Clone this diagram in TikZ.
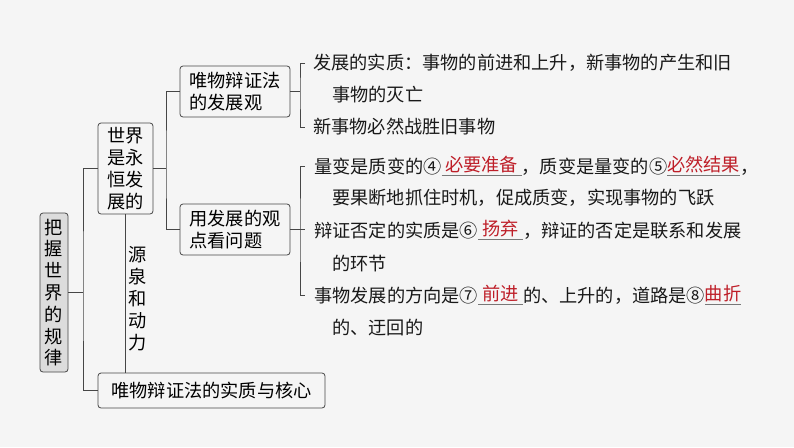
\documentclass[tikz,border=0pt]{standalone}
\usepackage{fontspec}
\setmainfont{Noto Sans CJK SC}
\definecolor{bg}{RGB}{245,245,245}
\definecolor{rootfill}{RGB}{220,220,220}
\definecolor{linec}{RGB}{70,70,70}
\definecolor{ansred}{RGB}{190,30,40}
\definecolor{ulc}{RGB}{120,120,120}
\newcommand{\ansblank}[2]{\rlap{\color{ulc}\rule[-2.5pt]{#1}{0.8pt}}\makebox[#1][c]{\raisebox{1.5pt}{\color{ansred}#2}}}
\tikzset{
  box/.style={draw=linec, line width=0.8pt, rounded corners=3pt, inner sep=0pt, align=left,
              font=\fontsize{18.2}{21.5}\selectfont},
  conn/.style={draw=linec, line width=0.8pt},
  txt/.style={anchor=west, inner sep=0pt, font=\fontsize{18.2}{22}\selectfont, text=black!90}
}
\begin{document}
\begin{tikzpicture}[x=1pt,y=-1pt]
\fill[bg] (0,0) rectangle (794,447);
\useasboundingbox (0,0) rectangle (794,447);

% boxes
\node[box, fill=rootfill, minimum width=28pt, minimum height=159pt, align=center,
      font=\fontsize{18.2}{21.8}\selectfont] (root) at (54,292.5) {把\\握\\世\\界\\的\\规\\律};
\node[box, minimum width=55pt, minimum height=91pt, font=\fontsize{18.2}{22}\selectfont] (w) at (125.5,168.5) {世界\\是永\\恒发\\展的};
\node[box, minimum width=110pt, minimum height=51pt] (b1) at (235,91.5) {唯物辩证法\\的发展观};
\node[box, minimum width=110pt, minimum height=51pt] (b2) at (235,229.5) {用发展的观\\点看问题};
\node[box, minimum width=227pt, minimum height=35pt] (bot) at (211.5,390.5) {唯物辩证法的实质与核心};
\node[inner sep=0pt, align=center, font=\fontsize{18.2}{22}\selectfont] (src) at (138,299) {源\\泉\\和\\动\\力};

% junctions
\coordinate (j1) at (83,292.5);
\coordinate (j2) at (166,168.5);
\coordinate (j3) at (300,91.5);
\coordinate (j4) at (300,229.5);

% right texts
\node[txt] (l1) at (313,63) {发展的实质：事物的前进和上升，新事物的产生和旧};
\node[txt] (l2) at (332,95) {事物的灭亡};
\node[txt] (l3) at (313,127) {新事物必然战胜旧事物};
\node[txt] (l4) at (314,166) {量变是质变的④\ansblank{80pt}{必要准备}，质变是量变的⑤\ansblank{73pt}{必然结果}，};
\node[txt] (l5) at (332,198) {要果断地抓住时机，促成质变，实现事物的飞跃};
\node[txt] (l6) at (314,230) {辩证否定的实质是⑥\ansblank{45pt}{扬弃}，辩证的否定是联系和发展};
\node[txt] (l7) at (332,264) {的环节};
\node[txt] (l8) at (314,295) {事物发展的方向是⑦\ansblank{45pt}{前进}的、上升的，道路是⑧\ansblank{36pt}{曲折}};
\node[txt] (l9) at (332,328) {的、迂回的};

% connectors
\draw[conn] (root.east) -- (j1);
\draw[conn] (w.west) -| (j1) |- (bot.west);
\draw[conn] (w.east) -- (j2);
\draw[conn] (b1.west) -| (j2) |- (b2.west);
\draw[conn] (w.south) -- (w.south |- bot.north);
\draw[conn] (b1.east) -- (j3);
\draw[conn] ([xshift=-8pt]l1.west) -| (j3) |- ([xshift=-8pt]l3.west);
\draw[conn] (b2.east) -- ([xshift=-9pt]l6.west |- j4);
\draw[conn] ([xshift=-9pt]l4.west) -| (j4) |- ([xshift=-9pt]l8.west);
\end{tikzpicture}
\end{document}
